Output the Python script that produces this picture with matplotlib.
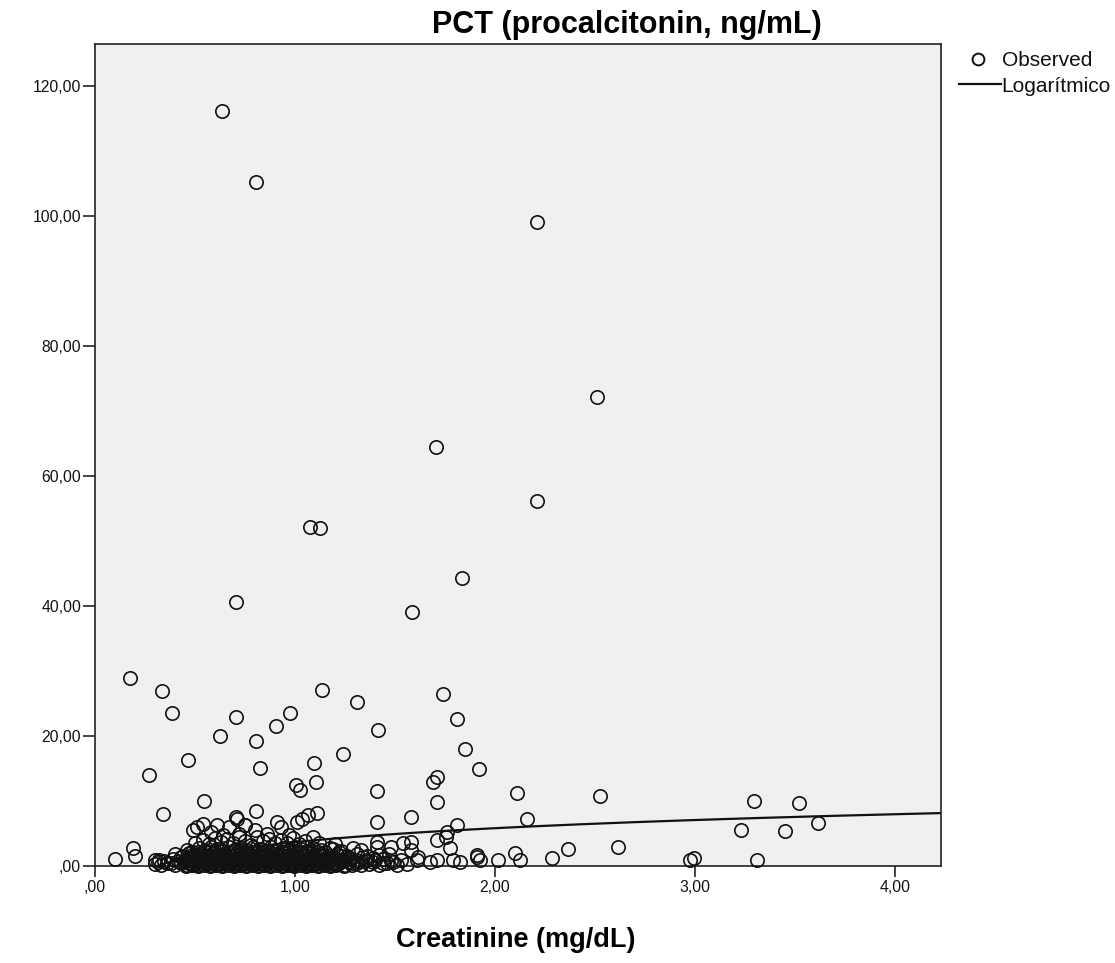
import numpy as np
import matplotlib
matplotlib.use("Agg")
import matplotlib.pyplot as plt
from matplotlib.lines import Line2D

plt.rcParams['font.family'] = ['Liberation Sans', 'DejaVu Sans']

# ---------------- data ----------------
# scattered / identifiable points: creatinine (mg/dL), PCT (ng/mL)
sparse_x = [0.635, 0.805, 2.21, 2.51, 1.705, 2.21, 1.075, 1.125, 1.835, 0.705,
            1.585, 0.175, 0.333, 1.137, 1.738, 1.308, 0.383, 0.703, 0.975, 0.905,
            1.808, 1.417, 0.625, 0.805, 1.85, 1.242, 0.463, 1.095, 0.825, 1.92,
            0.272, 1.708, 1.688, 1.103, 1.005, 1.025, 1.408, 2.112, 2.525, 1.708,
            0.545, 3.297, 3.52, 0.342, 0.805, 1.108, 1.067, 1.033, 1.008, 0.908,
            0.703, 0.708, 0.75, 1.408, 1.578, 2.162, 1.808, 1.758, 1.755, 1.708,
            1.775, 3.617, 3.228, 3.45, 2.617, 2.975, 2.995, 3.308, 2.363, 2.283,
            2.1, 2.125, 2.017, 1.908, 1.925, 1.908, 1.54, 1.58, 1.48, 1.408,
            1.408, 1.29, 1.58, 1.617, 1.79, 1.825, 1.71, 1.675, 1.608, 1.175,
            0.19, 0.2, 0.1, 0.3, 1.09]
sparse_y = [116.2, 105.2, 99.1, 72.2, 64.5, 56.2, 52.2, 52.0, 44.3, 40.6,
            39.1, 28.9, 26.9, 27.1, 26.4, 25.2, 23.6, 23.0, 23.5, 21.6,
            22.6, 21.0, 20.0, 19.2, 18.0, 17.2, 16.3, 15.8, 15.1, 15.0,
            14.0, 13.7, 13.0, 12.9, 12.4, 11.7, 11.6, 11.3, 10.7, 9.9,
            10.0, 10.0, 9.7, 8.0, 8.5, 8.1, 7.8, 7.3, 6.8, 6.8,
            7.6, 7.2, 6.3, 6.8, 7.6, 7.3, 6.3, 5.3, 4.5, 4.0,
            2.7, 6.6, 5.5, 5.4, 2.85, 1.0, 1.3, 0.9, 2.55, 1.3,
            2.05, 0.9, 1.0, 1.4, 0.9, 1.7, 3.5, 3.7, 3.0, 3.7,
            3.0, 2.7, 2.5, 1.4, 0.9, 0.65, 0.9, 0.65, 0.9, 2.7,
            2.7, 1.6, 1.1, 0.9, 4.5]

# dense cluster of low values (estimated)
dense_x = [0.30, 0.33, 0.36, 0.40, 0.43, 0.46, 0.49, 0.52, 0.55, 0.58, 0.61, 0.64, 0.67,
           0.70, 0.73, 0.76, 0.79, 0.82, 0.85, 0.88, 0.91, 0.94, 0.97, 1.00, 1.03, 1.06,
           1.09, 1.12, 1.15, 1.18, 1.21, 1.25, 1.29, 1.33, 1.37, 1.42, 1.46, 1.51, 1.56,
           0.315, 0.345, 0.38, 0.415, 0.445, 0.475, 0.505, 0.535, 0.565, 0.595, 0.625,
           0.655, 0.685, 0.715, 0.745, 0.775, 0.805, 0.835, 0.865, 0.895, 0.925, 0.955,
           0.985, 1.015, 1.045, 1.075, 1.105, 1.135, 1.165, 1.195, 1.23, 1.27, 1.31,
           1.35, 1.39, 1.44, 1.49,
           0.32, 0.39, 0.45, 0.48, 0.51, 0.54, 0.57, 0.60, 0.63, 0.66, 0.69, 0.72, 0.75,
           0.78, 0.81, 0.84, 0.87, 0.90, 0.93, 0.96, 0.99, 1.02, 1.05, 1.08, 1.11, 1.14,
           1.17, 1.20, 1.24, 1.28, 1.32, 1.36, 1.40, 1.44, 1.48, 1.53,
           0.43, 0.465, 0.495, 0.525, 0.555, 0.585, 0.615, 0.645, 0.675, 0.705, 0.735,
           0.765, 0.795, 0.825, 0.855, 0.885, 0.915, 0.945, 0.975, 1.005, 1.035, 1.065,
           1.095, 1.125, 1.16, 1.19, 1.23, 1.27, 1.34, 1.39,
           0.40, 0.44, 0.47, 0.50, 0.53, 0.56, 0.59, 0.62, 0.65, 0.68, 0.71, 0.74, 0.77,
           0.80, 0.83, 0.86, 0.89, 0.92, 0.95, 0.98, 1.01, 1.04, 1.07, 1.10, 1.13, 1.17,
           1.21, 1.26, 1.31, 1.36, 1.42, 1.47,
           0.485, 0.515, 0.545, 0.575, 0.605, 0.635, 0.665, 0.695, 0.725, 0.755, 0.785,
           0.815, 0.845, 0.875, 0.905, 0.935, 0.965, 0.995, 1.025, 1.055, 1.085, 1.115,
           1.15, 1.22,
           0.46, 0.52, 0.55, 0.58, 0.61, 0.64, 0.67, 0.70, 0.73, 0.76, 0.79, 0.82, 0.85,
           0.88, 0.91, 0.94, 0.97, 1.00, 1.03, 1.06, 1.09, 1.13, 1.19, 1.23, 1.33,
           0.50, 0.54, 0.57, 0.60, 0.63, 0.66, 0.69, 0.72, 0.75, 0.78, 0.84, 0.87, 0.90,
           0.93, 0.96, 0.99, 1.02, 1.05, 1.12, 1.20,
           0.49, 0.51, 0.54, 0.58, 0.61, 0.64, 0.67, 0.72, 0.75, 0.80, 0.81, 0.86, 0.93,
           0.97,
           0.455, 0.485, 0.515, 0.545, 0.575, 0.605, 0.635, 0.665, 0.695, 0.725, 0.755,
           0.785, 0.815, 0.845, 0.875, 0.905, 0.935, 0.965, 0.995, 1.025, 1.055, 1.085,
           1.115, 1.145, 1.175, 1.205, 1.245, 1.285,
           0.47, 0.50, 0.53, 0.56, 0.59, 0.62, 0.65, 0.68, 0.71, 0.74, 0.77, 0.80, 0.83,
           0.86, 0.89, 0.92, 0.95, 0.98, 1.01, 1.04, 1.07, 1.10, 1.13, 1.16, 1.19, 1.22,
           0.465, 0.495, 0.525, 0.555, 0.585, 0.615, 0.645, 0.675, 0.705, 0.735, 0.765,
           0.795, 0.825, 0.855, 0.885, 0.915, 0.945, 0.975, 1.005, 1.035, 1.065, 1.095,
           1.125, 1.155, 1.185, 1.215,
           0.485, 0.515, 0.545, 0.575, 0.605, 0.635, 0.665, 0.695, 0.725, 0.755, 0.785,
           0.815, 0.845, 0.875, 0.905, 0.935, 0.965, 0.995, 1.025, 1.055, 1.085, 1.115]
dense_y = [0.3, 0.2, 0.5, 0.2, 0.4, 0.1, 0.3, 0.2, 0.5, 0.1, 0.3, 0.2, 0.4,
           0.1, 0.3, 0.2, 0.5, 0.1, 0.3, 0.2, 0.4, 0.1, 0.3, 0.2, 0.4, 0.1,
           0.3, 0.2, 0.5, 0.1, 0.3, 0.2, 0.4, 0.1, 0.3, 0.2, 0.4, 0.2, 0.3,
           0.6, 0.7, 0.5, 0.7, 0.6, 0.5, 0.7, 0.6, 0.5, 0.7, 0.6,
           0.5, 0.7, 0.6, 0.5, 0.7, 0.6, 0.5, 0.7, 0.6, 0.5, 0.7,
           0.6, 0.5, 0.7, 0.6, 0.5, 0.7, 0.6, 0.5, 0.7, 0.6, 0.5,
           0.7, 0.6, 0.5, 0.6,
           0.9, 1.1, 0.8, 1.2, 0.9, 1.1, 0.8, 1.2, 0.9, 1.1, 0.8, 1.2, 0.9,
           1.1, 0.8, 1.2, 0.9, 1.1, 0.8, 1.2, 0.9, 1.1, 0.8, 1.2, 0.9, 1.1,
           0.8, 1.2, 0.9, 1.1, 0.8, 1.0, 0.9, 1.1, 0.8, 1.0,
           1.4, 1.3, 1.5, 1.3, 1.4, 1.5, 1.3, 1.4, 1.5, 1.3, 1.4,
           1.5, 1.3, 1.4, 1.5, 1.3, 1.4, 1.5, 1.3, 1.4, 1.5, 1.3,
           1.4, 1.5, 1.3, 1.4, 1.5, 1.3, 1.4, 1.3,
           1.8, 1.6, 2.0, 1.7, 1.9, 1.5, 2.0, 1.7, 1.9, 1.5, 2.0, 1.6, 1.9,
           1.5, 2.0, 1.7, 1.9, 1.5, 2.0, 1.6, 1.9, 1.5, 2.0, 1.7, 1.8, 1.5,
           1.9, 1.6, 1.8, 1.5, 1.7, 1.9,
           2.2, 2.1, 2.3, 2.2, 2.1, 2.3, 2.2, 2.1, 2.3, 2.2, 2.1,
           2.3, 2.2, 2.1, 2.3, 2.2, 2.1, 2.3, 2.2, 2.1, 2.3, 2.2,
           2.1, 2.2,
           2.5, 2.8, 2.4, 3.0, 2.6, 2.3, 2.9, 2.5, 2.8, 2.4, 3.0, 2.6, 2.3,
           2.9, 2.5, 2.7, 2.4, 3.0, 2.6, 2.3, 2.8, 2.5, 2.6, 2.3, 2.4,
           3.6, 4.0, 3.4, 4.3, 3.7, 4.1, 3.5, 4.4, 3.8, 3.3, 3.9, 4.2, 3.5,
           4.0, 3.6, 4.3, 3.4, 3.9, 3.6, 3.4,
           5.5, 6.0, 6.5, 5.2, 6.3, 4.8, 6.0, 5.0, 6.3, 5.5, 4.5, 5.0, 6.0,
           4.8,
           0.05, 0.1, 0.0, 0.15, 0.05, 0.1, 0.0, 0.15, 0.05, 0.1, 0.0,
           0.15, 0.05, 0.1, 0.0, 0.15, 0.05, 0.1, 0.0, 0.15, 0.05, 0.1,
           0.0, 0.15, 0.05, 0.1, 0.0, 0.15,
           0.4, 0.45, 0.35, 0.4, 0.45, 0.35, 0.4, 0.45, 0.35, 0.4, 0.45, 0.35, 0.4,
           0.45, 0.35, 0.4, 0.45, 0.35, 0.4, 0.45, 0.35, 0.4, 0.45, 0.35, 0.4, 0.45,
           1.0, 0.95, 1.05, 1.0, 0.95, 1.05, 1.0, 0.95, 1.05, 1.0, 0.95,
           1.05, 1.0, 0.95, 1.05, 1.0, 0.95, 1.05, 1.0, 0.95, 1.05, 1.0,
           0.95, 1.05, 1.0, 0.95,
           1.75, 1.65, 1.75, 1.65, 1.75, 1.65, 1.75, 1.65, 1.75, 1.65, 1.75,
           1.65, 1.75, 1.65, 1.75, 1.65, 1.75, 1.65, 1.75, 1.65, 1.75, 1.65]

# logarithmic fit  y = a + b*ln(x)  (estimated from the drawn curve)
fit_a = 3.67
fit_b = 3.1

x_ticks = [0, 1, 2, 3, 4]
x_ticklabels = [",00", "1,00", "2,00", "3,00", "4,00"]
y_ticks = [0, 20, 40, 60, 80, 100, 120]
y_ticklabels = [",00", "20,00", "40,00", "60,00", "80,00", "100,00", "120,00"]

title = "PCT (procalcitonin, ng/mL)"
x_label = "Creatinine (mg/dL)"
legend_labels = ["Observed", "Logarítmico"]

# ---------------- figure ----------------
W, H = 1115, 963
fig = plt.figure(figsize=(W / 100, H / 100), dpi=100)
ax = fig.add_axes([95 / W, 1 - 866 / H, (941 - 95) / W, (866 - 44) / H])
ax.set_facecolor("#f0f0f0")

all_x = sparse_x + dense_x
all_y = sparse_y + dense_y
ax.plot(all_x, all_y, linestyle="none", marker="o", markersize=9.6,
        markerfacecolor="none", markeredgecolor="#111111", markeredgewidth=1.2,
        clip_on=False, zorder=3)

xmax = 4.23
xs = np.linspace(0.05, xmax, 400)
ax.plot(xs, fit_a + fit_b * np.log(xs), color="#111111", linewidth=1.6, zorder=2)

ax.set_xlim(0, xmax)
ax.set_ylim(0, 126.5)
ax.set_xticks(x_ticks)
ax.set_xticklabels(x_ticklabels)
ax.set_yticks(y_ticks)
ax.set_yticklabels(y_ticklabels)
ax.tick_params(axis="both", direction="out", width=1.1, labelsize=11.3,
               colors="#111111")
ax.tick_params(axis="x", length=8, pad=2)
ax.tick_params(axis="y", length=9, pad=1)
for sp in ax.spines.values():
    sp.set_color("#222222")
    sp.set_linewidth(1.2)

fig.text(627 / W, 1 - 25 / H, title, ha="center", va="center",
         fontsize=22, fontweight="bold")
fig.text(516 / W, 1 - 940 / H, x_label, ha="center", va="center",
         fontsize=19.5, fontweight="bold")

# legend (drawn manually at the reference position)
fig.add_artist(Line2D([978 / W], [1 - 59 / H], linestyle="none", marker="o",
                      markersize=8.5, markerfacecolor="none",
                      markeredgecolor="#111111", markeredgewidth=1.4,
                      transform=fig.transFigure))
fig.add_artist(Line2D([959 / W, 1001 / W], [1 - 84 / H, 1 - 84 / H],
                      color="#111111", linewidth=1.6, transform=fig.transFigure))
fig.text(1002 / W, 1 - 60 / H, legend_labels[0], ha="left", va="center",
         fontsize=15, color="#111111")
fig.text(1001 / W, 1 - 86 / H, legend_labels[1], ha="left", va="center",
         fontsize=15, color="#111111")

fig.savefig("out.png", dpi=100)
